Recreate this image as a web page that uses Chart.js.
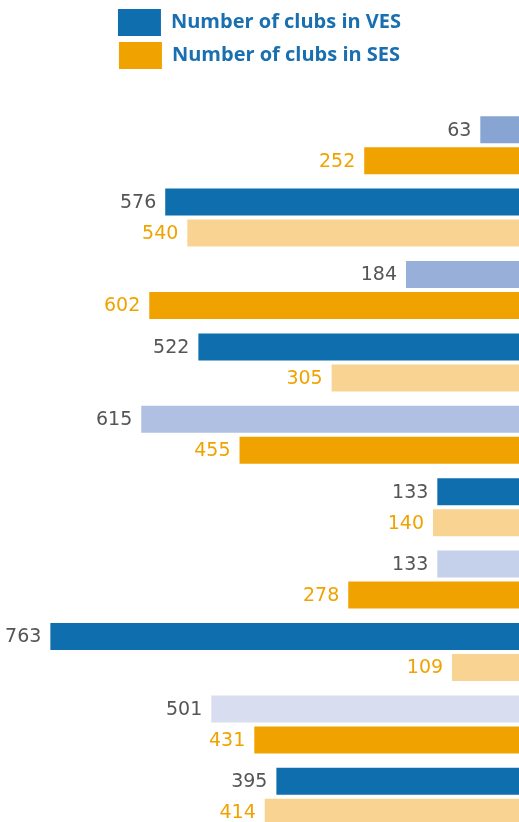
<!DOCTYPE html>
<html lang="en">
<head>
<meta charset="UTF-8">
<title>Number of clubs in VES and SES</title>
<script src="https://cdn.jsdelivr.net/npm/chart.js"></script>
<style>
    html, body {
        margin: 0;
        padding: 0;
        background: #ffffff;
        overflow: hidden;
    }
    .wrap {
        width: 519px;
        height: 833px;
        position: relative;
    }
</style>
</head>
<body>
<div class="wrap">
    <canvas id="chart"></canvas>
</div>

<script>
    // categories are not labelled in the picture
    const categories = ['1', '2', '3', '4', '5', '6', '7', '8', '9', '10'];
    const clubsVES = [63, 576, 184, 522, 615, 133, 133, 763, 501, 395];
    const clubsSES = [252, 540, 602, 305, 455, 140, 278, 109, 431, 414];

    const colorsVES = ['#87a4d3', '#0f6eae', '#98afd9', '#0f6eae', '#afc0e2',
                       '#0f6eae', '#c5d0ea', '#0f6eae', '#d8def0', '#0f6eae'];
    const colorsSES = ['#f0a300', '#f8d392', '#f0a300', '#f8d392', '#f0a300',
                       '#f8d392', '#f0a300', '#f8d392', '#f0a300', '#f8d392'];

    // value labels to the left of each bar
    const valueLabels = {
        id: 'valueLabels',
        afterDatasetsDraw(chart) {
            const ctx = chart.ctx;
            ctx.save();
            ctx.font = '19px "DejaVu Sans"';
            ctx.textAlign = 'right';
            ctx.textBaseline = 'middle';
            chart.data.datasets.forEach((ds, i) => {
                const meta = chart.getDatasetMeta(i);
                ctx.fillStyle = i === 0 ? '#555555' : '#f0a300';
                meta.data.forEach((bar, j) => {
                    ctx.fillText(ds.data[j], bar.x - 9, bar.y + 1);
                });
            });
            ctx.restore();
        }
    };

    // extra room under the legend
    const legendSpace = {
        id: 'legendSpace',
        afterInit(chart) {
            const fit = chart.legend.fit;
            chart.legend.fit = function () {
                fit.bind(chart.legend)();
                this.height += 30;
            };
        }
    };

    new Chart(document.getElementById('chart'), {
        type: 'bar',
        data: {
            labels: categories,
            datasets: [{
                label: 'Number of clubs in VES',
                data: clubsVES,
                backgroundColor: colorsVES,
                borderWidth: 0
            }, {
                label: 'Number of clubs in SES',
                data: clubsSES,
                backgroundColor: colorsSES,
                borderWidth: 0
            }]
        },
        options: {
            indexAxis: 'y',
            responsive: true,
            maintainAspectRatio: false,
            animation: false,
            categoryPercentage: 0.857,
            barPercentage: 0.87,
            layout: { padding: { top: 3, left: 0, right: 0, bottom: 0 } },
            scales: {
                x: { display: false, reverse: true, min: 0, max: 845 },
                y: { display: false }
            },
            plugins: {
                tooltip: { enabled: false },
                legend: {
                    position: 'top',
                    labels: {
                        boxWidth: 43,
                        boxHeight: 27,
                        padding: 6,
                        color: '#1a6fb0',
                        font: { family: '"Open Sans"', size: 20, weight: 'bold' },
                        generateLabels(chart) {
                            return chart.data.datasets.map((ds, i) => ({
                                text: ds.label,
                                fillStyle: i === 0 ? '#0f6eae' : '#f0a300',
                                strokeStyle: 'rgba(0,0,0,0)',
                                lineWidth: 0,
                                fontColor: '#1a6fb0',
                                datasetIndex: i
                            }));
                        }
                    }
                }
            }
        },
        plugins: [valueLabels, legendSpace]
    });
</script>
</body>
</html>
